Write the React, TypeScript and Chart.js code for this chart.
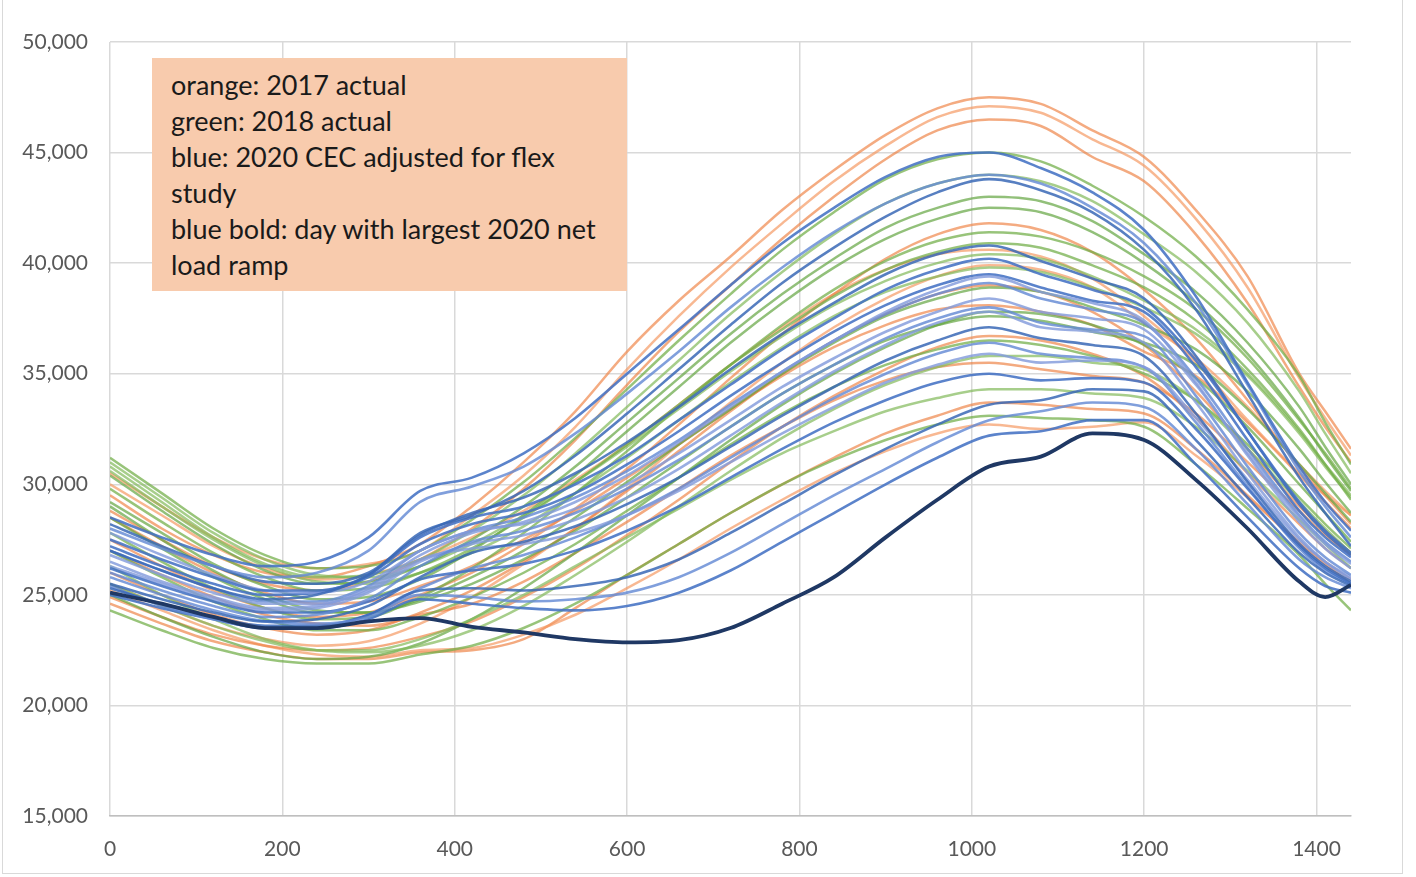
import { useEffect, useRef } from "react";
import { Chart, registerables } from "chart.js";

Chart.register(...registerables);

// minutes of the day (x axis)
const MINUTES = [0, 60, 120, 180, 240, 300, 360, 420, 480, 540, 600, 660, 720, 780, 840, 900, 960, 1020, 1080, 1140, 1200, 1260, 1320, 1380, 1410, 1440];

const X_TICKS = [0, 200, 400, 600, 800, 1000, 1200, 1400];
const Y_TICKS = [15000, 20000, 25000, 30000, 35000, 40000, 45000, 50000];

const LEGEND_LINES = [
  "orange: 2017 actual",
  "green: 2018 actual",
  "blue: 2020 CEC adjusted for flex",
  "study",
  "blue bold: day with largest 2020 net",
  "load ramp",
];

// orange: 2017 actual
const ORANGE_2017: number[][] = [
  [29500, 28000, 26800, 26000, 25800, 26300, 27300, 29000, 31000, 33300, 36000, 38300, 40300, 42400, 44200, 45800, 47000, 47500, 47200, 46000, 44800, 42400, 39400, 35000, 33300, 31600],
  [30500, 29000, 27600, 26600, 26200, 26400, 27000, 28600, 30400, 32600, 35200, 37600, 39800, 41800, 43700, 45300, 46600, 47100, 46800, 45600, 44400, 42000, 38900, 34800, 33000, 31300],
  [28800, 27500, 26300, 25500, 25200, 25600, 26600, 28000, 29800, 32000, 34500, 36900, 39000, 41100, 43000, 44700, 46000, 46500, 46200, 44800, 43700, 41300, 38200, 34400, 32600, 31000],
  [27500, 26300, 25200, 24400, 24000, 24200, 25000, 26000, 27300, 28900, 30700, 32700, 34800, 36800, 38600, 40200, 41300, 41800, 41500, 40500, 38800, 36600, 33800, 30800, 29500, 28200],
  [30000, 28600, 27200, 26200, 25700, 25900, 26600, 27600, 28800, 30200, 31800, 33600, 35400, 37100, 38600, 39700, 40400, 40600, 40300, 39300, 37600, 35500, 32900, 30500, 29500, 28600],
  [26000, 25000, 24100, 23500, 23200, 23400, 24200, 25200, 26500, 28000, 29700, 31500, 33300, 35000, 36500, 37700, 38600, 39000, 38700, 37800, 36300, 34200, 31600, 29000, 27900, 26900],
  [24900, 24000, 23200, 22700, 22500, 22600, 23100, 23800, 24900, 26200, 27700, 29300, 31000, 32600, 34000, 35200, 36200, 36700, 36500, 35900, 34900, 33000, 30500, 28200, 27100, 26200],
  [25200, 24300, 23400, 22700, 22300, 22200, 22500, 22600, 23200, 24100, 25300, 26600, 28000, 29300, 30500, 31500, 32300, 32700, 32500, 32600, 32800, 31300, 29400, 27400, 26500, 25700],
  [27000, 25900, 24900, 24100, 23700, 23600, 24100, 24600, 25600, 26900, 28300, 29800, 31300, 32600, 33800, 34700, 35300, 35500, 35200, 34900, 34600, 33200, 31000, 28800, 27700, 26800],
  [28500, 27200, 26000, 25100, 24600, 24700, 25400, 26300, 27500, 28800, 30300, 31800, 33400, 34900, 36200, 37200, 37900, 38100, 37800, 37200, 36000, 34900, 32800, 30400, 29200, 28000],
  [25500, 24500, 23600, 23000, 22700, 22900, 23700, 24900, 26400, 28000, 29800, 31800, 33700, 35500, 37100, 38400, 39400, 39900, 39700, 38900, 37300, 35700, 33500, 30900, 29700, 28600],
  [24600, 23700, 22900, 22400, 22100, 22100, 22400, 22500, 23000, 24400, 25900, 27300, 28700, 30000, 31200, 32300, 33100, 33700, 33600, 33400, 33200, 31600, 29500, 27300, 26400, 25500],
];

// green: 2018 actual
const GREEN_2018: number[][] = [
  [31200, 29600, 28000, 26800, 26200, 26300, 27000, 28400, 30100, 32100, 34300, 36500, 38600, 40600, 42300, 43800, 44700, 45000, 44600, 43500, 42100, 40300, 37900, 34900, 32800, 30900],
  [30800, 29200, 27600, 26400, 25800, 25900, 26600, 27900, 29500, 31400, 33500, 35600, 37700, 39600, 41300, 42700, 43600, 44000, 43700, 42800, 41300, 39600, 37300, 34200, 32300, 30500],
  [30400, 28800, 27300, 26100, 25500, 25600, 26300, 27500, 29000, 30800, 32800, 34800, 36800, 38600, 40200, 41600, 42500, 43000, 42800, 41900, 40400, 38700, 36400, 33500, 31700, 30000],
  [29800, 28300, 26900, 25800, 25200, 25300, 26000, 27100, 28500, 30100, 31800, 33600, 35400, 37000, 38500, 39700, 40500, 40900, 40700, 39900, 38900, 37400, 35200, 32500, 30900, 29300],
  [31000, 29400, 27800, 26600, 25900, 25800, 26300, 27300, 28600, 30100, 31700, 33400, 35100, 36700, 38100, 39200, 40000, 40400, 40200, 39400, 38300, 37000, 35000, 32400, 30900, 29500],
  [28500, 27100, 25800, 24800, 24200, 24200, 24800, 25800, 27000, 28500, 30100, 31800, 33400, 35000, 36400, 37600, 38400, 38900, 38700, 38000, 37200, 36100, 34200, 31600, 30100, 28700],
  [24300, 23400, 22600, 22100, 21900, 21900, 22300, 22700, 23500, 24600, 25900, 27300, 28700, 30000, 31100, 32000, 32700, 33100, 33000, 32900, 32600, 30900, 28900, 26800, 25500, 24300],
  [26300, 25000, 23900, 23000, 22500, 22400, 22700, 23400, 24500, 25900, 27400, 29000, 30600, 32100, 33400, 34500, 35300, 35800, 35800, 35500, 35200, 33800, 31600, 29200, 28000, 26900],
  [29000, 27500, 26100, 25000, 24300, 24200, 24700, 25500, 26600, 27900, 29400, 31000, 32600, 34100, 35400, 36500, 37200, 37600, 37400, 36900, 36400, 35400, 33400, 30900, 29600, 28300],
  [27800, 26500, 25300, 24400, 23900, 24000, 24900, 26200, 27800, 29600, 31500, 33500, 35400, 37200, 38800, 40100, 41000, 41400, 41200, 40500, 39400, 37900, 35700, 32900, 31400, 29800],
  [25500, 24500, 23600, 22900, 22500, 22500, 23000, 23900, 25000, 26300, 27600, 28900, 30200, 31400, 32400, 33300, 33900, 34300, 34300, 34100, 33900, 32600, 30600, 28400, 27300, 26200],
  [29200, 27800, 26400, 25400, 24800, 24900, 25700, 27000, 28600, 30400, 32400, 34400, 36400, 38200, 39800, 41100, 42000, 42500, 42300, 41400, 40000, 38200, 35900, 33000, 31300, 29700],
  [27000, 25800, 24700, 23900, 23400, 23400, 24000, 24900, 26000, 27300, 28800, 30300, 31800, 33200, 34400, 35400, 36100, 36500, 36300, 35800, 35000, 33800, 31800, 29400, 28200, 27100],
  [30600, 29000, 27500, 26300, 25600, 25500, 26000, 26900, 28100, 29600, 31200, 32900, 34600, 36200, 37600, 38700, 39400, 39800, 39600, 38900, 38000, 36800, 34900, 32300, 30800, 29400],
  [25000, 24000, 23100, 22400, 22100, 22200, 22800, 23900, 25300, 26900, 28600, 30300, 32000, 33600, 35000, 36200, 37200, 37800, 37700, 37200, 36300, 34800, 32600, 30000, 28700, 27400],
];

// blue: 2020 CEC adjusted for flex study
const BLUE_2020: number[][] = [
  [28500, 27600, 26800, 26300, 26500, 27600, 29700, 30300, 31400, 33000, 35000, 37000, 39000, 40900, 42500, 43900, 44800, 45000, 44300, 43200, 41500, 38500, 34600, 30800, 29200, 27900],
  [28000, 27100, 26300, 25800, 26000, 27000, 29200, 29900, 30800, 32300, 34100, 36000, 38000, 39800, 41400, 42700, 43600, 44000, 43600, 42500, 40900, 38200, 34500, 30600, 29000, 27600],
  [27000, 26100, 25300, 24800, 25000, 25900, 27800, 28600, 29700, 31300, 33200, 35200, 37200, 39100, 40700, 42100, 43200, 43800, 43300, 42300, 40600, 37900, 34100, 30300, 28700, 27200],
  [26500, 25600, 24900, 24400, 24500, 25300, 26800, 27800, 28300, 29200, 30400, 31900, 33500, 35100, 36500, 37800, 38800, 39400, 38700, 38200, 37400, 34600, 31300, 28300, 27100, 26200],
  [27500, 26600, 25800, 25200, 25200, 25800, 27300, 28200, 28700, 29600, 30900, 32400, 34000, 35500, 36900, 38100, 39000, 39500, 38900, 38300, 37800, 35300, 32000, 28800, 27600, 26700],
  [26000, 25200, 24500, 24000, 24100, 24800, 26300, 27400, 27900, 28700, 29800, 31100, 32600, 34100, 35400, 36600, 37500, 38000, 37300, 37000, 36700, 34000, 30800, 27800, 26700, 25900],
  [25500, 24800, 24200, 23800, 23900, 24500, 25800, 26900, 27400, 28100, 29100, 30300, 31700, 33100, 34400, 35600, 36500, 37100, 36600, 36300, 35800, 33200, 30100, 27300, 26300, 25600],
  [27800, 26800, 25900, 25200, 25100, 25600, 27000, 27900, 28200, 28900, 30000, 31400, 32900, 34400, 35700, 36900, 37800, 38400, 37800, 37500, 37000, 34500, 31400, 28500, 27300, 26400],
  [26200, 25400, 24700, 24200, 24200, 24700, 25700, 26100, 26400, 27000, 27900, 29000, 30300, 31600, 32800, 33800, 34600, 35000, 34700, 34800, 34600, 32500, 29800, 27200, 26200, 25500],
  [25800, 25000, 24300, 23800, 23700, 24000, 25000, 24900, 24700, 24800, 25100, 25800, 26900, 28200, 29500, 30700, 31900, 32900, 33300, 33700, 33500, 31600, 29100, 26600, 25800, 25300],
  [25300, 24600, 24000, 23600, 23600, 24100, 25200, 25300, 25200, 25400, 25800, 26600, 27800, 29100, 30400, 31600, 32700, 33600, 33800, 34300, 34200, 32000, 29400, 26900, 26000, 25400],
  [26800, 25900, 25100, 24600, 24600, 25200, 26600, 27100, 27300, 27800, 28600, 29700, 31000, 32300, 33500, 34600, 35400, 35900, 35500, 35600, 35300, 33000, 30200, 27500, 26500, 25800],
  [27200, 26300, 25500, 25000, 25100, 25900, 27600, 28500, 29000, 30000, 31300, 32900, 34500, 36100, 37500, 38800, 39700, 40200, 39500, 38800, 38000, 35600, 32400, 29200, 27900, 26900],
  [25400, 24500, 23900, 23500, 23500, 24100, 25300, 26200, 26800, 27600, 28600, 29800, 31200, 32600, 33900, 35000, 35900, 36400, 35900, 35700, 35300, 32800, 29900, 27100, 26100, 25500],
  [28200, 27200, 26300, 25600, 25500, 26000, 27700, 28700, 29400, 30500, 31900, 33500, 35200, 36800, 38200, 39500, 40400, 40800, 40100, 39300, 38400, 35800, 32400, 29100, 27800, 26800],
  [26300, 25500, 24800, 24300, 24400, 25100, 26500, 27300, 27700, 28400, 29400, 30700, 32200, 33700, 35100, 36300, 37300, 37800, 37100, 36900, 36400, 33700, 30500, 27600, 26500, 25700],
  [25000, 24400, 23900, 23500, 23500, 23900, 24800, 24600, 24400, 24300, 24500, 25100, 26100, 27400, 28700, 30000, 31200, 32200, 32400, 32900, 32900, 30900, 28500, 26200, 25400, 25100],
  [27000, 26100, 25300, 24700, 24700, 25400, 27000, 27900, 28500, 29400, 30600, 32000, 33600, 35100, 36500, 37700, 38600, 39100, 38400, 37900, 37300, 34800, 31600, 28600, 27400, 26500],
];

// blue bold: day with largest 2020 net load ramp
const BLUE_BOLD: number[] = [25100, 24600, 24000, 23500, 23500, 23800, 23950, 23550, 23300, 23000, 22850, 22950, 23500, 24600, 25800, 27600, 29300, 30800, 31250, 32300, 32000, 30200, 28000, 25600, 24900, 25450];

const ORANGE_COLORS = ["rgba(240,135,75,0.7)", "rgba(244,150,95,0.68)", "rgba(237,125,60,0.65)"];
const GREEN_COLORS = ["rgba(112,173,71,0.72)", "rgba(130,185,90,0.7)", "rgba(100,165,65,0.7)"];
const BLUE_COLORS = ["rgba(68,114,196,0.88)", "rgba(100,138,212,0.82)", "rgba(58,104,182,0.85)", "rgba(130,155,220,0.82)"];

export default function App() {
  const ref = useRef<HTMLCanvasElement | null>(null);

  useEffect(() => {
    document.body.style.margin = "0";
    if (!ref.current) return;
    const mk = (vals: number[], color: string, width: number) => ({
      data: MINUTES.map((m, i) => ({ x: m, y: vals[i] })),
      borderColor: color,
      backgroundColor: color,
      borderWidth: width,
      pointRadius: 0,
      fill: false,
      cubicInterpolationMode: "monotone" as const,
    });
    const datasets: any[] = [];
    datasets.push(mk(BLUE_BOLD, "#1F3864", 3.8));
    BLUE_2020.forEach((v, i) => datasets.push(mk(v, BLUE_COLORS[i % BLUE_COLORS.length], 2.6)));
    GREEN_2018.forEach((v, i) => datasets.push(mk(v, GREEN_COLORS[i % GREEN_COLORS.length], 2.5)));
    ORANGE_2017.forEach((v, i) => datasets.push(mk(v, ORANGE_COLORS[i % ORANGE_COLORS.length], 2.5)));

    const tickFont = { family: "Lato, 'Open Sans', sans-serif", size: 21 };
    const chart = new Chart(ref.current, {
      type: "line",
      data: { datasets },
      options: {
        animation: false,
        responsive: false,
        devicePixelRatio: 1,
        events: [],
        layout: { padding: { left: 0, top: 42, right: 65, bottom: 0 } },
        plugins: { legend: { display: false }, tooltip: { enabled: false }, title: { display: false } },
        scales: {
          x: {
            type: "linear",
            min: 0,
            max: 1440,
            afterFit: (s: any) => { s.height = 61; },
            afterBuildTicks: (s: any) => { s.ticks = X_TICKS.map((v) => ({ value: v })); },
            ticks: { color: "#595959", font: tickFont, padding: 21, maxRotation: 0, autoSkip: false, callback: (v: any) => String(v) },
            grid: { color: "#D9D9D9", lineWidth: 1.5, drawTicks: false },
            border: { display: true, color: "#BFBFBF", width: 1.5 },
          },
          y: {
            type: "linear",
            min: 15000,
            max: 50000,
            afterFit: (s: any) => { s.width = 110; },
            afterBuildTicks: (s: any) => { s.ticks = Y_TICKS.map((v) => ({ value: v })); },
            ticks: { color: "#595959", font: tickFont, padding: 22, callback: (v: any) => Number(v).toLocaleString("en-US") },
            grid: { color: "#D9D9D9", lineWidth: 1.5, drawTicks: false },
            border: { display: false },
          },
        },
      },
    });
    return () => chart.destroy();
  }, []);

  return (
    <div style={{ position: "relative", width: 1416, height: 877, overflow: "hidden", background: "#fff" }}>
      <div style={{ position: "absolute", left: 2, top: -20, width: 1401, height: 894, border: "1.5px solid #D9D9D9", boxSizing: "border-box" }} />
      <canvas ref={ref} width={1416} height={877} style={{ position: "absolute", left: 0, top: 0 }} />
      <div
        style={{
          position: "absolute",
          left: 152,
          top: 58,
          width: 475,
          height: 233,
          background: "#F8CBAD",
          boxSizing: "border-box",
          padding: "9px 0 0 19px",
          fontFamily: "Lato, 'Open Sans', sans-serif",
          fontSize: 27,
          lineHeight: "36px",
          color: "#1a1a1a",
        }}
      >
        {LEGEND_LINES.map((t, i) => (
          <div key={i} style={{ whiteSpace: "nowrap" }}>{t}</div>
        ))}
      </div>
    </div>
  );
}
